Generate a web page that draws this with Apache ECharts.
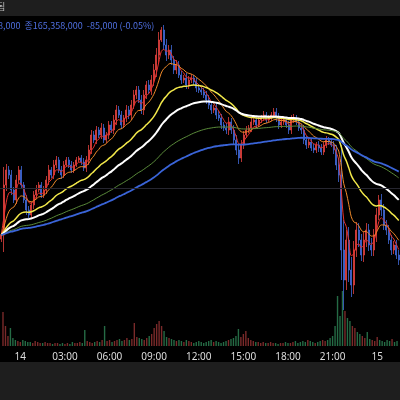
<!DOCTYPE html>
<html><head><meta charset="utf-8">
<script src="https://cdn.jsdelivr.net/npm/echarts@6/dist/echarts.min.js"></script>
<style>html,body{margin:0;padding:0;background:#000}#c{width:400px;height:400px}</style>
</head><body><div id="c"></div>
<script>
const closes=[165,215,230,225,210,200,220,230,215,200,190,185,195,205,210,215,205,210,220,230,225,235,240,230,225,235,240,235,230,235,240,242,238,232,240,250,265,260,270,265,272,260,265,275,270,280,290,285,275,282,290,285,295,305,310,300,290,305,315,310,320,330,345,360,370,355,345,350,340,330,335,325,320,322,315,320,322,318,312,310,308,305,300,295,290,292,285,282,275,272,270,278,270,260,250,242,255,265,270,272,278,280,275,280,282,285,280,282,285,288,282,275,278,280,275,270,280,282,278,272,270,260,255,258,252,250,255,252,248,255,260,258,255,250,235,225,150,120,160,130,115,150,170,160,145,160,170,155,150,165,185,200,190,175,170,160,150,155,145,140];
const wicks=[6,35,12,8,10,6,9,7,8,6,10,7,6,8,9,5,6,7,8,10,6,9,7,6,8,7,5,6,7,6,5,4,6,7,8,10,9,7,8,6,9,7,6,8,7,9,10,7,8,6,9,8,10,9,8,7,9,10,8,9,10,12,14,16,5,10,12,9,10,8,9,7,8,6,9,8,7,6,8,7,6,7,8,9,8,6,9,7,8,6,9,10,8,9,10,12,9,8,7,6,8,7,6,5,6,7,6,5,6,7,8,9,6,7,6,8,9,7,6,7,8,9,8,7,6,7,6,8,7,6,7,6,5,8,10,14,60,60,20,25,25,18,15,14,12,15,14,12,13,12,14,10,12,11,10,9,10,8,9,10];
const volumes=[34,20,10,18,8,6,5,4,6,5,4,4,3,5,4,3,3,4,3,3,2,3,3,2,3,2,3,2,4,3,3,4,3,16,5,4,3,4,5,4,6,20,5,6,4,5,6,7,5,6,8,6,7,23,9,8,7,6,8,10,12,18,22,25,20,15,9,8,7,6,5,6,5,4,6,5,4,3,4,5,4,3,4,5,6,4,5,4,3,4,5,6,7,8,10,17,9,12,15,8,6,5,4,4,3,4,3,3,4,3,3,2,3,3,4,3,3,4,5,3,4,5,4,6,5,4,3,4,5,6,5,6,8,10,20,50,30,55,35,28,25,20,18,14,12,10,8,14,7,6,5,9,6,5,4,6,5,7,4,5];
const maPeriods=[5,12,30,50,90,130];
const maColors=['#e8322e','#f08a2a','#f2e84a','#ffffff','#5a8a3a','#3a64d8'];
const maWidths=[1,1,1.5,2,1,1.8];
const startMin=-70;
const cats=closes.map((_,i)=>{const m=startMin+10*i;const d=m<0?13:(m<1440?14:15);const mm=((m%1440)+1440)%1440;const h=Math.floor(mm/60),mi=mm%60;return d+' '+String(h).padStart(2,'0')+':'+String(mi).padStart(2,'0');});
const candles=closes.map((c,i)=>{const o=i?closes[i-1]:c-4;const hi=Math.max(o,c)+Math.ceil(wicks[i]/2);const lo=Math.min(o,c)-Math.floor(wicks[i]/2);return [o,c,lo,hi];});
function ema(p){const a=2/(p+1);let e=closes[0];return closes.map((c,i)=>{if(i)e=e+a*(c-e);return +e.toFixed(2);});}
function lab(v){const [d,t]=v.split(' ');if(t==='00:00')return d;const h=+t.slice(0,2);return (t.slice(3)==='00'&&h%3===0)?t:'';}
const chart=echarts.init(document.getElementById('c'));
chart.setOption({
 animation:false,backgroundColor:'#000',
 graphic:[
  {type:'rect',shape:{x:0,y:0,width:400,height:16},style:{fill:'#1e1e1e'},z:-1},
  {type:'rect',shape:{x:0,y:362,width:400,height:38},style:{fill:'#1e1e1e'},z:-1},
  {type:'text',left:-3,top:2,style:{text:'됨',fill:'#bbb',font:'9px "Noto Sans CJK KR"'}},
  {type:'text',left:-2,top:21,style:{text:'8,000  종165,358,000  -85,000 (-0.05%)',fill:'#4f6fe0',font:'9px "Noto Sans CJK KR"'}}
 ],
 grid:[{left:0,right:0,top:0,height:400},{left:0,right:0,top:290,height:56}],
 xAxis:[
  {type:'category',data:cats,gridIndex:0,show:false,boundaryGap:true},
  {type:'category',data:cats,gridIndex:1,boundaryGap:true,axisLine:{show:false},axisTick:{show:false},
   axisLabel:{interval:0,formatter:lab,color:'#ddd',fontSize:10,margin:6,fontFamily:'Noto Sans'}}
 ],
 yAxis:[{min:0,max:400,gridIndex:0,show:false},{min:0,max:56,gridIndex:1,show:false}],
 series:[
  {type:'bar',xAxisIndex:1,yAxisIndex:1,barWidth:1.4,data:volumes.map((v,i)=>({value:v,itemStyle:{color:candles[i][1]>=candles[i][0]?'#7a2a2a':'#256b45'}}))},
  {type:'candlestick',data:candles,barWidth:1.6,itemStyle:{color:'#e2413e',color0:'#4169d8',borderColor:'#e2413e',borderColor0:'#4169d8',borderWidth:0.8},
   markLine:{silent:true,symbol:'none',label:{show:false},lineStyle:{color:'#262630',type:'solid',width:1},data:[{yAxis:212}]}},
  ...maPeriods.map((p,k)=>({type:'line',data:ema(p),symbol:'none',smooth:0.3,lineStyle:{color:maColors[k],width:maWidths[k]},z:3}))
 ]
});
</script></body></html>
